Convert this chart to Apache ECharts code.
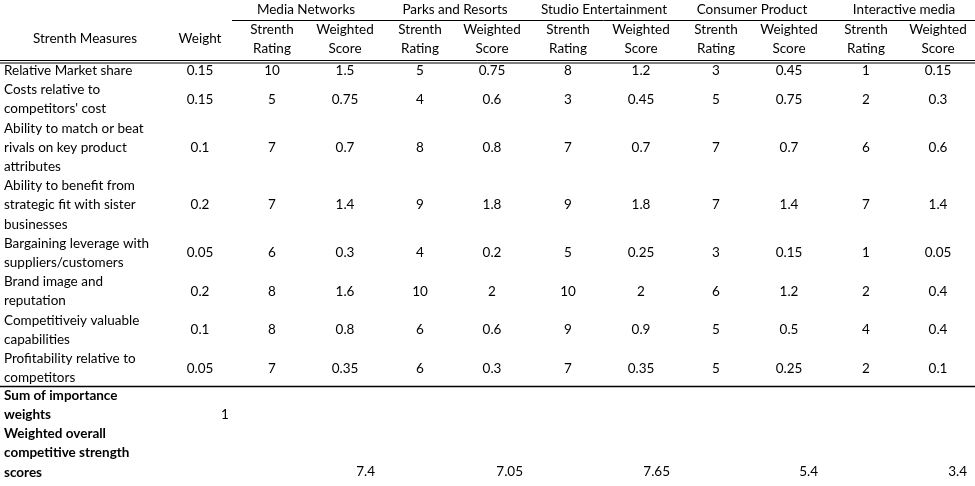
<!DOCTYPE html>
<html><head><meta charset="utf-8">
<script src="https://cdn.jsdelivr.net/npm/echarts@6/dist/echarts.min.js"></script>
<style>html,body{margin:0;padding:0;background:#fff}#c{width:975px;height:486px}</style>
</head><body><div id="c"></div>
<script>
const divisions = ["Media Networks","Parks and Resorts","Studio Entertainment","Consumer Product","Interactive media"];
const measures = ["Relative Market share","Costs relative to\ncompetitors' cost","Ability to match or beat\nrivals on key product\nattributes","Ability to benefit from\nstrategic fit with sister\nbusinesses","Bargaining leverage with\nsuppliers/customers","Brand image and\nreputation","Competitiveiy valuable\ncapabilities","Profitability relative to\ncompetitors"];
const weights = ["0.15","0.15","0.1","0.2","0.05","0.2","0.1","0.05"];
const ratings = [
  ["10","5","7","7","6","8","8","7"],
  ["5","4","8","9","4","10","6","6"],
  ["8","3","7","9","5","10","9","7"],
  ["3","5","7","7","3","6","5","5"],
  ["1","2","6","7","1","2","4","2"]
];
const scores = [
  ["1.5","0.75","0.7","1.4","0.3","1.6","0.8","0.35"],
  ["0.75","0.6","0.8","1.8","0.2","2","0.6","0.3"],
  ["1.2","0.45","0.7","1.8","0.25","2","0.9","0.35"],
  ["0.45","0.75","0.7","1.4","0.15","1.2","0.5","0.25"],
  ["0.15","0.3","0.6","1.4","0.05","0.4","0.4","0.1"]
];
const sumWeights = "1";
const totals = ["7.4","7.05","7.65","5.4","3.4"];

const font = "Lato, 'Open Sans', sans-serif";
const LH = 19.2, FS = 13.5;
const groupCenters = [306,455,604,752,904];
const ratingX = [272,420,568,716,866];
const scoreX = [345,492,641,789,938];
const totalRight = [375,523,670,818,967];
const g = [];
function txt(x,y,s,opts){g.push({type:'text',x:x,y:y,style:Object.assign({text:s,font:FS+'px '+font,fill:'#000',align:'center',verticalAlign:'middle',lineHeight:LH},opts||{})});}
function line(x1,y1,x2,y2,w){g.push({type:'line',shape:{x1:x1,y1:y1,x2:x2,y2:y2},style:{stroke:'#000',lineWidth:w||1}});}
// header
txt(85,39,"Strenth Measures"); txt(200,39,"Weight");
line(232,20.5,975,20.5,1);
divisions.forEach((d,i)=>{
  txt(groupCenters[i],10,d);
  txt(ratingX[i],39,"Strenth\nRating"); txt(scoreX[i],39,"Weighted\nScore");
});
line(0,60.5,975,60.5,1);
line(0,63,975,63,1);
// rows
let y = 61;
measures.forEach((m,r)=>{
  const n = m.split("\n").length;
  const h = n*LH;
  const cy = y + h/2;
  txt(4,cy,m,{align:'left'});
  txt(200,cy,weights[r]);
  divisions.forEach((d,i)=>{txt(ratingX[i],cy,ratings[i][r]);txt(scoreX[i],cy,scores[i][r]);});
  y += h;
});
line(0,386.5,975,386.5,1.5);
txt(4,405.5,"Sum of importance\nweights",{align:'left',font:'bold '+FS+'px '+font});
txt(225,415,sumWeights);
txt(4,453,"Weighted overall\ncompetitive strength\nscores",{align:'left',font:'bold '+FS+'px '+font});
totals.forEach((t,i)=>txt(totalRight[i],472,t,{align:'right'}));
const chart = echarts.init(document.getElementById('c'));
chart.setOption({animation:false,graphic:{elements:g}});
</script></body></html>
